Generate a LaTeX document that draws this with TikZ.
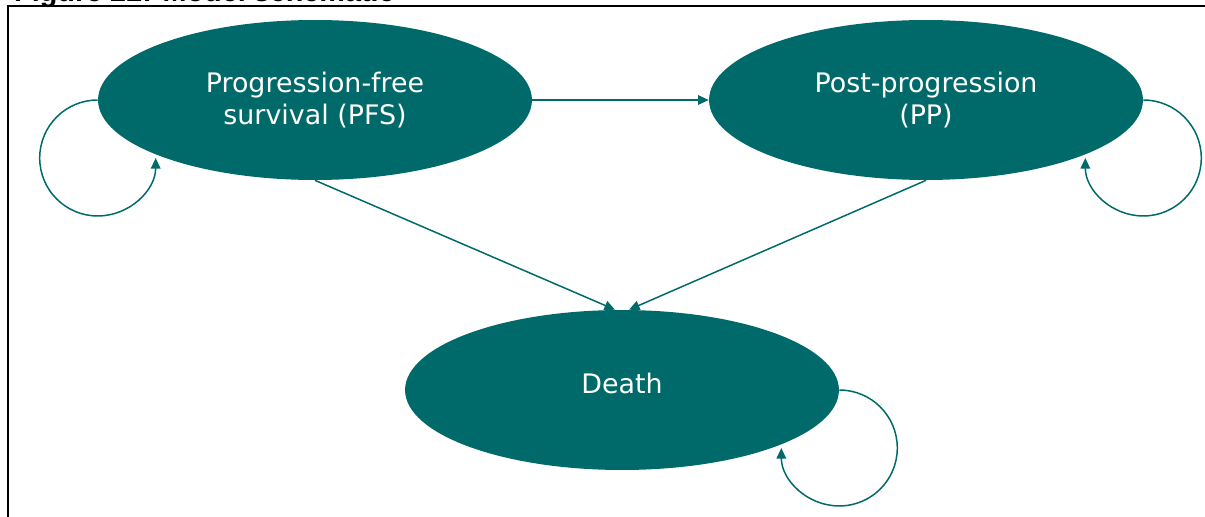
\documentclass[tikz,border=0pt]{standalone}
\usepackage{fontspec}
\setmainfont{DejaVu Sans}
\newfontfamily\titlefont{Liberation Sans}
\usetikzlibrary{shapes.geometric,arrows.meta}
\definecolor{statecol}{RGB}{0,106,106}
\begin{document}
\begin{tikzpicture}[x=0.02cm,y=-0.02cm,
  state/.style={ellipse, fill=statecol, text=white, inner sep=0pt,
    minimum width=8.68cm, minimum height=3.2cm, align=center,
    font=\fontsize{15.3}{18.6}\selectfont},
  trans/.style={draw=statecol, line width=0.85pt, -{Triangle[length=6pt,width=5.4pt]}}]
\useasboundingbox (0,0) rectangle (1205,517);
\clip (0,0) rectangle (1205,517);

\node[anchor=base west, font=\titlefont\bfseries\fontsize{16.4}{19}\selectfont] (title) at (8,2) {Figure 22: Model schematic};
\draw[line width=1.3pt] (8,530) |- (1215,6);

\node[state] (pfs) at (315,100) {Progression-free\\survival (PFS)};
\node[state] (pp) at (926,100) {Post-progression\\(PP)};
\node[state, text depth=8pt] (death) at (622,390) {Death};

\path[trans] (pfs.east) -- (pp.west);
\path[trans] (pfs.south) -- (death.95);
\path[trans] (pp.south) -- (death.85);

\path[trans] (pfs.west) arc[start angle=90, end angle=360, radius=1.16cm];
\path[trans] (pp.east) arc[start angle=90, end angle=-180, radius=1.16cm];
\path[trans] (death.east) arc[start angle=90, end angle=-180, radius=1.16cm];
\end{tikzpicture}
\end{document}
